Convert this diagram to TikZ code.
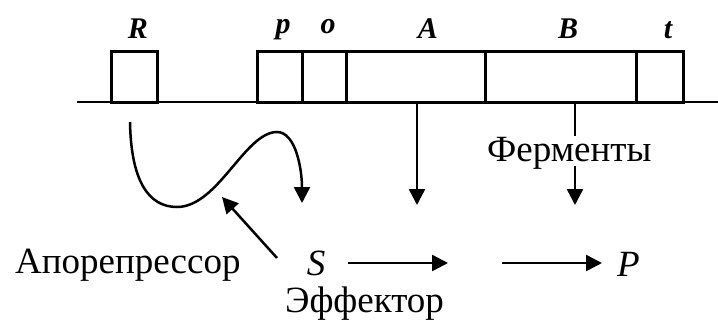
\documentclass[tikz,border=0pt]{standalone}
\usepackage{fontspec}
\setmainfont{Liberation Serif}
\usetikzlibrary{arrows.meta}
\begin{document}
\begin{tikzpicture}[x=1pt,y=-1pt,
  gene/.style={draw,line width=3pt},
  lbl/.style={font=\fontsize{30}{32}\selectfont\bfseries\itshape,anchor=base,inner sep=0pt},
  txt/.style={font=\fontsize{37}{40}\selectfont,anchor=base west,inner sep=0pt},
  sym/.style={font=\fontsize{37}{40}\selectfont\itshape,anchor=base,inner sep=0pt},
  arr/.style={line width=2.5pt,-{Triangle[length=16pt,width=16pt]}}]
\useasboundingbox (0,0) rectangle (718,322);
% DNA line
\coordinate (L0) at (77,102);
\coordinate (L1) at (718,102);
\draw[line width=2.6pt] (L0) -- (L1);
% gene boxes
\draw[gene] (111,51) rectangle (157,102);
\draw[gene] (257,51) rectangle (683,102);
\draw[gene] (302,51) -- (302,102);
\draw[gene] (346,51) -- (346,102);
\draw[gene] (485,51) -- (485,102);
\draw[gene] (636,51) -- (636,102);
% labels
\node[lbl] (lR) at (138,38) {R};
\node[lbl] (lp) at (283,33) {p};
\node[lbl] (lo) at (328,33) {o};
\node[lbl] (lA) at (428,38) {A};
\node[lbl] (lB) at (568,38) {B};
\node[lbl] (lt) at (668,38) {t};
% texts
\node[txt] (ferm) at (487,161) {Ферменты};
\node[txt] (apo) at (15,273) {Апорепрессор};
\node[txt] (eff) at (285,312) {Эффектор};
\node[sym] (S) at (316,275) {S};
\node[sym,anchor=base west] (P) at (617,276) {P};
% arrows
\coordinate (a0) at (417,102);
\coordinate (a1) at (417,205);
\draw[arr] (a0) -- (a1);
\coordinate (b0) at (575,102);
\coordinate (b1) at (575,136);
\coordinate (b2) at (575,166);
\coordinate (b3) at (575,205);
\draw[line width=2.5pt] (b0) -- (b1);
\draw[arr] (b2) -- (b3);
\coordinate (h0) at (348,263);
\coordinate (h1) at (448,263);
\coordinate (h2) at (502,263);
\coordinate (h3) at (602,263);
\draw[arr] (h0) -- (h1);
\draw[arr] (h2) -- (h3);
\coordinate (c0) at (130,122);
\coordinate (c1) at (177,207);
\coordinate (c2) at (277,132);
\coordinate (c3) at (302,203);
\draw[arr] (c0) .. controls (131,180) and (148,207) .. (c1)
  .. controls (218,207) and (245,132) .. (c2)
  .. controls (296,132) and (302,170) .. (c3);
\coordinate (d0) at (277,258);
\coordinate (d1) at (222,197);
\draw[arr] (d0) -- (d1);
\end{tikzpicture}
\end{document}
